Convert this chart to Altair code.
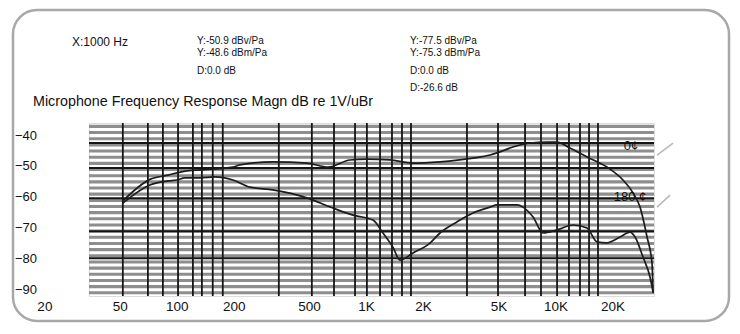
import altair as alt
import pandas as pd

# ---- data ----
freq_0 = [51.6, 71.7, 89.3, 99.6, 110, 132, 197, 214, 320, 484, 626, 817, 1004, 1329, 1758,
          2442, 3648, 4488, 4886, 5930, 7297, 8976, 10140, 11860, 14600, 18610, 22600,
          25540, 27800, 30280, 32180, 32580]
db_0 = [-61.2, -54.2, -52.8, -52.1, -51.5, -51.1, -50.2, -49.5, -48.5, -48.9, -50.2, -47.9,
        -47.6, -47.9, -48.9, -48.5, -47.3, -46.3, -45.6, -43.7, -42.4, -42.1, -42.1, -44.0,
        -46.9, -50.2, -54.4, -58.6, -63.2, -72.9, -81.4, -91.1]

freq_180 = [51.6, 71.7, 89.3, 99.6, 110, 132, 158, 197, 242, 320, 484, 664, 848, 1081, 1220,
            1378, 1500, 1758, 2162, 2442, 3000, 3648, 4488, 4886, 6226, 6700, 7570, 8550,
            10140, 12300, 14600, 16480, 18610, 21800, 24620, 26180, 28840, 31400, 32580]
db_180 = [-61.9, -56.0, -54.7, -54.4, -53.7, -53.7, -53.4, -54.4, -56.7, -57.6, -60.2, -63.5,
          -65.8, -67.4, -71.6, -76.2, -80.4, -78.1, -74.9, -71.6, -68.0, -65.1, -63.2, -62.5,
          -62.5, -63.2, -66.4, -71.6, -70.6, -69.0, -70.0, -74.5, -74.8, -72.9, -71.3, -72.9,
          -79.4, -85.9, -90.8]

x_tick_values = [20, 50, 100, 200, 500, 1000, 2000, 5000, 10000, 20000]
x_tick_labels = ["20", "50", "100", "200", "500", "1K", "2K", "5K", "10K", "20K"]
y_tick_values = [-40, -50, -60, -70, -80, -90]

grid_freqs = [51.6, 70, 84, 101, 121, 135, 154, 174, 344, 514, 673, 869, 1004, 1178, 1362,
              1538, 1716, 3390, 4944, 6870, 8340, 10140, 11720, 13400, 14960, 16680]
grid_db_major = [-42.4, -50.5, -60.3, -71.0, -79.8]
grid_db_minor = [-91, -89, -87, -85, -83, -81, -79, -77, -75, -73, -71, -69, -67, -65, -63,
                 -61, -59, -57, -55, -53, -51, -49, -47, -45, -43, -41, -39, -37]

leader_f = [34200, 34200]
leader_db = [-46.3, -63.2]
leader_f2 = [41550, 40060]
leader_db2 = [-42.4, -59.3]

FONT = "Liberation Sans"

xs = alt.Scale(type="log", domain=[34.2, 32960], nice=False)
ys = alt.Scale(type="linear", domain=[-92.05, -35.9], nice=False, zero=False)

curves = pd.DataFrame({
    "f": freq_0 + freq_180,
    "db": db_0 + db_180,
    "s": ["0"] * len(freq_0) + ["180"] * len(freq_180),
})

minor = alt.Chart(pd.DataFrame({"db": grid_db_minor})).mark_rule(
    color="#8e8e8e", strokeWidth=3.1).encode(y=alt.Y("db:Q", scale=ys, axis=None))
major = alt.Chart(pd.DataFrame({"db": grid_db_major})).mark_rule(
    color="#151515", strokeWidth=2).encode(y=alt.Y("db:Q", scale=ys, axis=None))
vert = alt.Chart(pd.DataFrame({"f": grid_freqs})).mark_rule(
    color="#151515", strokeWidth=1.8).encode(x=alt.X("f:Q", scale=xs, axis=None))

lines = alt.Chart(curves).mark_line(color="#1c1c1c", strokeWidth=1.7, interpolate="monotone").encode(
    x=alt.X("f:Q", scale=xs, axis=None),
    y=alt.Y("db:Q", scale=ys, axis=None),
    detail="s:N",
)

xlab = alt.Chart(pd.DataFrame({"f": x_tick_values, "t": x_tick_labels})).mark_text(
    font=FONT, fontSize=13.5, color="#111", align="center", baseline="middle").encode(
    x=alt.X("f:Q", scale=xs, axis=None), y=alt.value(184), text="t:N")

ylab = alt.Chart(pd.DataFrame({"db": y_tick_values})).mark_text(
    font=FONT, fontSize=13, color="#111", align="left", baseline="middle").encode(
    y=alt.Y("db:Q", scale=ys, axis=None), x=alt.value(-74), text="db:Q")

leaders = alt.Chart(pd.DataFrame({"f": leader_f, "db": leader_db, "f2": leader_f2, "db2": leader_db2})).mark_rule(
    color="#b8b8b8", strokeWidth=1.5).encode(
    x=alt.X("f:Q", scale=xs, axis=None), y=alt.Y("db:Q", scale=ys, axis=None),
    x2="f2:Q", y2="db2:Q")


def label(s, x, y, size, align="left"):
    return alt.Chart(pd.DataFrame({"t": [s]})).mark_text(
        font=FONT, fontSize=size, color="#111", align=align, baseline="middle").encode(
        text="t:N", x=alt.value(x), y=alt.value(y))


frame = alt.Chart(pd.DataFrame({"t": ["frame"]})).mark_rect(
    fill=None, stroke="#a8a8a8", strokeWidth=2.5, cornerRadius=24).encode(
    x=alt.value(-76), x2=alt.value(640), y=alt.value(-113), y2=alt.value(198))

texts = [
    label("X:1000 Hz", -17, -81, 12),
    label("Y:-50.9 dBv/Pa", 108, -82, 10),
    label("Y:-48.6 dBm/Pa", 108, -70, 10),
    label("D:0.0 dB", 108, -52.5, 10),
    label("Y:-77.5 dBv/Pa", 321, -82, 10),
    label("Y:-75.3 dBm/Pa", 321, -70, 10),
    label("D:0.0 dB", 321, -52.5, 10),
    label("D:-26.6 dB", 321, -35, 10),
    label("Microphone Frequency Response Magn dB re 1V/uBr", -56, -21, 14.3),
    label("0¢", 542, 23, 13, align="center"),
    label("180 ¢", 541, 74, 13, align="center"),
]

chart = alt.layer(frame, minor, major, vert, lines, leaders, xlab, ylab, *texts).properties(
    width=565, height=173,
    autosize=alt.AutoSizeParams(type="none"),
    padding={"left": 81, "top": 115, "right": 77, "bottom": 28},
).configure_view(stroke="#111", strokeWidth=2, fill="white").configure(background="white")

chart.save("out.html", embed_options={"renderer": "svg", "actions": False})
